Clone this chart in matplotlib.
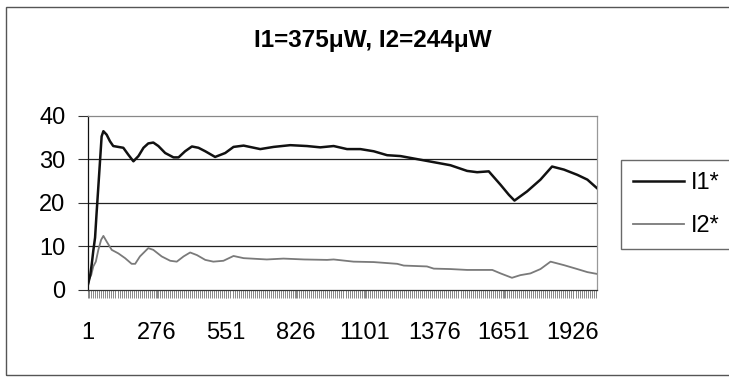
import numpy as np
import matplotlib.pyplot as plt
from matplotlib.patches import Rectangle
from matplotlib.ticker import MultipleLocator

plt.rcParams['font.family'] = ['Liberation Sans', 'DejaVu Sans']

# values (category index, value)
n_points = 2020
tick_labels = [1, 276, 551, 826, 1101, 1376, 1651, 1926]

i1_cat = [1, 4, 12, 18, 24, 31, 37, 44, 51, 57, 64, 77, 90, 103, 123, 143, 163, 183,
          203, 223, 242, 262, 282, 309, 342, 362, 388, 415, 441, 468, 507, 547, 580,
          620, 686, 739, 805, 871, 924, 977, 1030, 1083, 1136, 1189, 1242, 1308, 1374,
          1440, 1506, 1546, 1592, 1639, 1672, 1694, 1744, 1797, 1843, 1890, 1943, 1983,
          2020]
i1_val = [0.8, 1.5, 3.5, 6.0, 9.0, 12.0, 17.6, 23.7, 29.9, 35.2, 36.4, 35.6, 34.1, 33.0,
          32.8, 32.6, 31.0, 29.5, 30.7, 32.6, 33.6, 33.8, 33.0, 31.4, 30.4, 30.4, 31.8,
          32.9, 32.6, 31.8, 30.5, 31.4, 32.8, 33.1, 32.3, 32.8, 33.2, 33.0, 32.7, 33.0,
          32.3, 32.3, 31.8, 30.9, 30.7, 30.0, 29.3, 28.6, 27.3, 27.0, 27.2, 24.1, 21.8,
          20.5, 22.6, 25.3, 28.3, 27.6, 26.4, 25.3, 23.4]

i2_cat = [1, 8, 16, 24, 34, 44, 55, 64, 77, 97, 123, 150, 176, 190, 209, 242, 262, 295,
          329, 355, 382, 408, 435, 468, 500, 540, 580, 620, 712, 778, 860, 951, 977,
          1056, 1136, 1229, 1255, 1347, 1374, 1440, 1506, 1606, 1639, 1684, 1717, 1757,
          1797, 1837, 1890, 1943, 1983, 2020]
i2_val = [0.8, 2.5, 3.5, 5.4, 6.5, 9.2, 11.5, 12.4, 11.1, 9.2, 8.4, 7.3, 6.0, 6.0, 7.7,
          9.6, 9.2, 7.7, 6.7, 6.5, 7.7, 8.6, 8.0, 6.9, 6.5, 6.7, 7.8, 7.3, 7.0, 7.2, 7.0,
          6.9, 7.0, 6.5, 6.4, 6.0, 5.6, 5.4, 4.9, 4.8, 4.6, 4.6, 3.8, 2.8, 3.4, 3.8, 4.8,
          6.5, 5.7, 4.8, 4.1, 3.7]

fig = plt.figure(figsize=(7.29, 3.78), dpi=100)
ax = fig.add_axes([87.5 / 729, 1 - 290 / 378, 509.2 / 729, 174.5 / 378])

# outer chart frame (right side runs off the picture)
fig.patches.append(Rectangle((6 / 729, 3 / 378), 740 / 729, 368 / 378,
                             transform=fig.transFigure, fill=False,
                             edgecolor='#555555', linewidth=1.0))

for y in [10, 20, 30]:
    ax.axhline(y, color='#222222', linewidth=0.9, zorder=1)

l1, = ax.plot(i1_cat, i1_val, color='#111111', linewidth=1.8, zorder=3)
l2, = ax.plot(i2_cat, i2_val, color='#7a7a7a', linewidth=1.3, zorder=2)

ax.set_xlim(1, n_points)
ax.set_ylim(0, 40)
ax.set_yticks([0, 10, 20, 30, 40])
ax.set_xticks(tick_labels)
ax.xaxis.set_minor_locator(MultipleLocator(8))

ax.tick_params(axis='y', length=7, width=0.8, color='#333333', pad=9, labelsize=17)
ax.tick_params(axis='x', which='major', length=5.8, width=0.7, color='#888888',
               pad=17, labelsize=17)
ax.tick_params(axis='x', which='minor', length=5.8, width=0.7, color='#888888')

ax.spines['left'].set_color('#111111')
ax.spines['bottom'].set_color('#333333')
ax.spines['top'].set_color('#888888')
ax.spines['right'].set_color('#999999')
for s in ax.spines.values():
    s.set_linewidth(0.9)

fig.text(373 / 729, 1 - 40 / 378, 'I1=375\u03bcW, I2=244\u03bcW', ha='center',
         va='center', fontsize=17.5, fontweight='bold')

leg = ax.legend([l1, l2], ['I1*', 'I2*'], loc='upper left',
                bbox_to_anchor=(621 / 729, 1 - 160 / 378), bbox_transform=fig.transFigure,
                fontsize=17, frameon=True, fancybox=False, edgecolor='#444444',
                handlelength=2.15, handletextpad=0.3, borderpad=0.5, labelspacing=0.9,
                borderaxespad=0)
leg.get_frame().set_linewidth(1.0)

fig.savefig('out.png', dpi=100)
